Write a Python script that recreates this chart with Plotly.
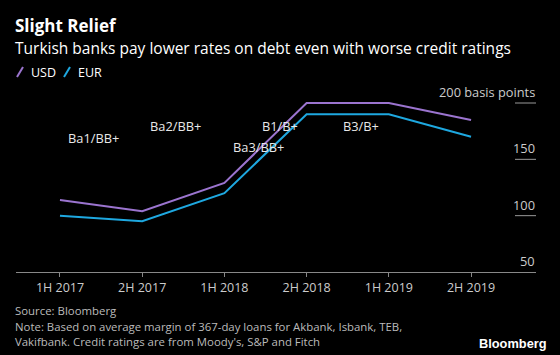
import plotly.graph_objects as go

periods = ["1H 2017", "2H 2017", "1H 2018", "2H 2018", "1H 2019", "2H 2019"]
usd = [114, 104, 129, 200, 200, 185]
eur = [100, 95, 120, 190, 190, 170]
ratings = ["Ba1/BB+", "Ba2/BB+", "Ba3/BB+", "B1/B+", "B3/B+"]
y_ticks = [50, 100, 150, 200]
y_tick_text = ["50", "100", "150", "200 basis points"]

W, H = 560, 355
PLOT_L, PLOT_R, PLOT_T, PLOT_B = 16, 536, 92, 272   # page pixels
L, R, T, B = PLOT_L, W - PLOT_R, PLOT_T, H - PLOT_B
XR = [-0.535, 5.79]
YR = [50, 50 + (PLOT_B - PLOT_T) * 150 / 169]

def xd(p):
    return XR[0] + (p - PLOT_L) / (PLOT_R - PLOT_L) * (XR[1] - XR[0])

def yd(p):
    return YR[0] + (PLOT_B - p) / (PLOT_B - PLOT_T) * (YR[1] - YR[0])

def pxp(p):
    return (p - PLOT_L) / (PLOT_R - PLOT_L)

def pyp(p):
    return (PLOT_B - p) / (PLOT_B - PLOT_T)

FONT = "Open Sans"
USD_C = "#9b74cf"
EUR_C = "#1ea8e0"

xi = list(range(len(periods)))
fig = go.Figure()
fig.add_trace(go.Scatter(x=xi, y=usd, mode="lines", line=dict(color=USD_C, width=2), name="USD", showlegend=False))
fig.add_trace(go.Scatter(x=xi, y=eur, mode="lines", line=dict(color=EUR_C, width=2), name="EUR", showlegend=False))

ann = []

def text(t, x, y, size, color="#ffffff", xanchor="left", font=FONT):
    ann.append(dict(text=t, x=pxp(x), y=pyp(y), xref="paper", yref="paper", xanchor=xanchor, yanchor="middle",
                    align="left", showarrow=False, borderpad=0, font=dict(family=font, size=size, color=color)))

# base size sets the line spacing (1.3 x size); spans set the glyph sizes
text("<span style='font-size:17px'><b>Slight Relief</b></span><br>"
     "<span style='font-size:15.5px'>Turkish banks pay lower rates on debt even with worse credit ratings</span>",
     14, 36, 17)
text("USD", 30, 72, 12.5)
text("EUR", 77, 72, 12.5)

# rating annotations (placed in data coordinates)
rating_px = [(93, 138), (175, 126), (258, 147), (280, 126), (361, 126)]
for t, (x, y) in zip(ratings, rating_px):
    ann.append(dict(text=t, x=xd(x), y=yd(y), xref="x", yref="y", xanchor="center", yanchor="middle",
                    showarrow=False, borderpad=0, font=dict(family=FONT, size=12.8, color="#e8e8e8")))

# y tick labels
for v, t in zip(y_ticks, y_tick_text):
    ann.append(dict(text=t, x=1, y=v, xref="paper", yref="y", xanchor="right", yanchor="bottom", yshift=1,
                    showarrow=False, borderpad=0, font=dict(family=FONT, size=12.8, color="#cccccc")))

# footer
fs = "<span style='font-size:11.4px'>%s</span>"
text("<br>".join(fs % s for s in [
    "Source: Bloomberg",
    "Note: Based on average margin of 367-day loans for Akbank, Isbank, TEB,",
    "Vakifbank. Credit ratings are from Moody's, S&P and Fitch"]), 14, 326, 12, "#bbbbbb")
text("<b>Bloomberg</b>", 548, 343, 12.8, "#ffffff", xanchor="right", font="Liberation Sans")

shapes = []
for v in y_ticks[1:]:
    shapes.append(dict(type="line", xref="paper", yref="y", x0=pxp(515), x1=1, y0=v, y1=v,
                       line=dict(color="#999999", width=1)))
for col, x0 in [(USD_C, 17), (EUR_C, 64)]:
    shapes.append(dict(type="line", xref="paper", yref="paper", x0=pxp(x0), x1=pxp(x0 + 6), y0=pyp(77), y1=pyp(67),
                       line=dict(color=col, width=2)))

fig.update_layout(
    width=W, height=H,
    margin=dict(l=L, r=R, t=T, b=B, autoexpand=False),
    paper_bgcolor="#000000", plot_bgcolor="#000000",
    showlegend=False,
    annotations=ann, shapes=shapes,
    xaxis=dict(range=XR, tickmode="array", tickvals=xi, ticktext=periods,
               showgrid=False, zeroline=False, showline=True, linecolor="#888888", linewidth=1,
               ticks="outside", ticklen=4, tickcolor="#888888",
               tickfont=dict(family=FONT, size=12.5, color="#cccccc"), fixedrange=True),
    yaxis=dict(range=YR, showgrid=False, zeroline=False, showticklabels=False,
               showline=False, fixedrange=True),
)

fig.write_html("out.html", config={"displayModeBar": False},
               post_script="document.body.style.margin='0';document.body.style.background='#000';")
